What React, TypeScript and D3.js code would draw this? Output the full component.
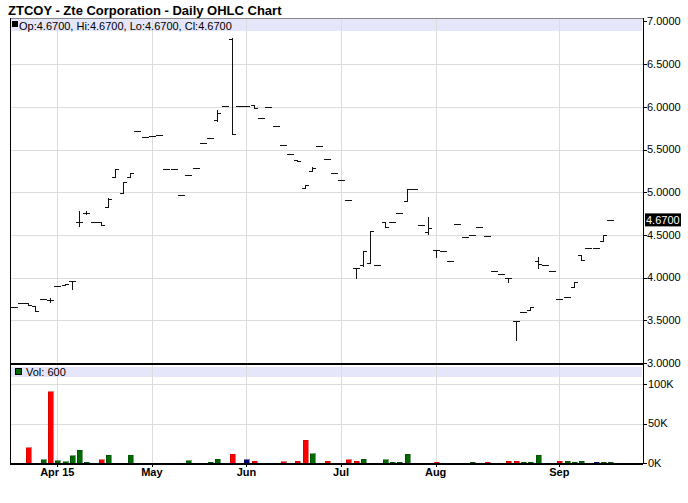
import * as d3 from 'd3';

// daily bars, oldest first (one entry per trading session shown)
const opens = [3.66, 3.70, 3.70, 3.67, 3.75, 3.74, 3.90, 3.91, 3.96, 4.65, 4.76, 4.65, 4.65, 4.83, 5.18, 4.99, 5.18, 5.72, 5.65, 5.66, 5.67, 5.27, 5.27, 4.97, 5.20, 5.28, 5.58, 5.64, 5.85, 6.01, 6.79, 6.01, 6.01, 6.02, 5.87, 6.00, 5.77, 5.55, 5.45, 5.38, 5.05, 5.25, 5.54, 5.39, 5.22, 5.14, 4.91, 4.11, 4.15, 4.17, 4.15, 4.65, 4.65, 4.76, 4.90, 5.04, 4.62, 4.53, 4.32, 4.31, 4.19, 4.63, 4.48, 4.50, 4.59, 4.49, 4.08, 4.04, 4.00, 3.49, 3.60, 3.62, 4.19, 4.15, 4.08, 3.75, 3.77, 3.89, 4.26, 4.35, 4.35, 4.43, 4.67];
const highs = [3.66, 3.70, 3.70, 3.67, 3.75, 3.76, 3.90, 3.93, 3.96, 4.78, 4.78, 4.65, 4.65, 4.93, 5.27, 5.12, 5.22, 5.72, 5.65, 5.66, 5.67, 5.27, 5.27, 4.97, 5.20, 5.28, 5.58, 5.64, 5.96, 6.01, 6.80, 6.01, 6.01, 6.02, 5.87, 6.00, 5.77, 5.55, 5.45, 5.38, 5.08, 5.29, 5.54, 5.39, 5.22, 5.14, 4.91, 4.11, 4.31, 4.55, 4.15, 4.65, 4.65, 4.76, 5.04, 5.04, 4.62, 4.71, 4.32, 4.31, 4.19, 4.63, 4.48, 4.50, 4.59, 4.49, 4.08, 4.04, 4.00, 3.49, 3.60, 3.65, 4.24, 4.15, 4.08, 3.75, 3.77, 3.95, 4.26, 4.35, 4.35, 4.50, 4.67];
const lows = [3.66, 3.70, 3.68, 3.61, 3.75, 3.72, 3.90, 3.91, 3.87, 4.61, 4.74, 4.65, 4.62, 4.83, 5.18, 4.99, 5.18, 5.72, 5.65, 5.66, 5.67, 5.27, 5.27, 4.97, 5.20, 5.28, 5.58, 5.64, 5.83, 6.01, 5.68, 6.01, 6.01, 5.99, 5.87, 6.00, 5.77, 5.55, 5.45, 5.36, 5.05, 5.25, 5.54, 5.39, 5.22, 5.14, 4.91, 4.00, 4.13, 4.17, 4.15, 4.59, 4.65, 4.76, 4.90, 5.04, 4.62, 4.51, 4.24, 4.31, 4.19, 4.63, 4.48, 4.50, 4.59, 4.49, 4.08, 4.04, 3.95, 3.27, 3.60, 3.62, 4.11, 4.15, 4.08, 3.75, 3.77, 3.89, 4.21, 4.35, 4.35, 4.43, 4.67];
const closes = [3.66, 3.70, 3.68, 3.61, 3.75, 3.74, 3.90, 3.93, 3.96, 4.65, 4.76, 4.65, 4.62, 4.92, 5.27, 5.12, 5.22, 5.72, 5.65, 5.66, 5.67, 5.27, 5.27, 4.97, 5.20, 5.28, 5.58, 5.64, 5.93, 6.01, 5.68, 6.01, 6.01, 5.99, 5.87, 6.00, 5.77, 5.55, 5.45, 5.36, 5.08, 5.28, 5.54, 5.39, 5.22, 5.14, 4.91, 4.11, 4.31, 4.55, 4.15, 4.59, 4.65, 4.76, 5.04, 5.04, 4.62, 4.58, 4.32, 4.31, 4.19, 4.63, 4.48, 4.50, 4.59, 4.49, 4.08, 4.04, 4.00, 3.49, 3.60, 3.65, 4.16, 4.15, 4.08, 3.75, 3.77, 3.95, 4.21, 4.35, 4.35, 4.50, 4.67];
// volume in thousands of shares
const volumes = [0, 0, 19, 0, 4, 90, 3, 1.5, 9, 16, 1, 0, 4, 10, 0, 0, 10, 0, 0, 0, 0, 0, 0, 0, 2.6, 0, 0, 1, 5, 0, 11, 0, 4, 2.5, 0, 0, 0, 1.5, 0, 2.5, 29, 12, 0, 2.5, 0, 0, 4, 2.5, 5, 0, 0, 4, 1, 1, 11, 0, 0, 0, 1, 0, 0, 0, 0, 1, 0, 1, 0, 0, 2.5, 2.5, 1.2, 1.2, 10, 0, 0, 2.5, 2.5, 1.2, 2.5, 0, 1, 1, 0.6];

const monthIdx = [6, 19, 32, 45, 58, 75];
const monthLabels = ['Apr 15', 'May', 'Jun', 'Jul', 'Aug', 'Sep'];
const priceTicks = [3, 3.5, 4, 4.5, 5, 5.5, 6, 6.5, 7];
const volTicks = [0, 50, 100];

const W = 688;
const H = 503;
const left = 10;
const right = 643;
const font = '"Liberation Sans", Arial, Helvetica, sans-serif';

export default function App() {
  const x = d3.scaleLinear().domain([-0.5, 86.5]).range([left, right]);
  const y = d3.scaleLinear().domain([3, 7]).range([363, 21.4]);
  const yv = d3.scaleLinear().domain([0, 100]).range([463, 384]);

  const last = closes[closes.length - 1];
  const volColor = (i: number) => {
    if (i === 0 || closes[i] === closes[i - 1]) return ['#000080', '#000050'];
    return closes[i] > closes[i - 1] ? ['#006a00', '#004000'] : ['#ff0000', '#c00000'];
  };

  return (
    <svg width={W} height={H} style={{ position: 'absolute', left: 0, top: 0, background: '#fff' }} fontFamily={font}>
      <text x={8} y={15} fontSize={13} fontWeight="bold" fill="#000">ZTCOY - Zte Corporation - Daily OHLC Chart</text>

      {/* header bands */}
      <rect x={left + 1} y={19} width={631} height={12} fill="#e6e6fa" />
      <rect x={left + 1} y={367} width={631} height={10} fill="#e6e6fa" />

      {/* grid */}
      <g stroke="#dcdcdc" strokeWidth={1} shapeRendering="crispEdges">
        {priceTicks.slice(1, -1).map((t) => (
          <line key={'p' + t} x1={left} x2={right} y1={Math.round(y(t)) + 0.5} y2={Math.round(y(t)) + 0.5} />
        ))}
        {volTicks.slice(1).map((t) => (
          <line key={'v' + t} x1={left} x2={right} y1={Math.round(yv(t)) + 0.5} y2={Math.round(yv(t)) + 0.5} />
        ))}
        {monthIdx.map((m) => (
          <line key={'m' + m} x1={Math.round(x(m)) + 0.5} x2={Math.round(x(m)) + 0.5} y1={19} y2={463} />
        ))}
      </g>

      {/* legends */}
      <rect x={12} y={21} width={6} height={6} fill="#000" />
      <text x={19} y={30} fontSize={11} fill="#000">{`Op:${opens[82].toFixed(4)}, Hi:${highs[82].toFixed(4)}, Lo:${lows[82].toFixed(4)}, Cl:${last.toFixed(4)}`}</text>
      <rect x={15.5} y={368.5} width={6} height={6} fill="#006a00" stroke="#000" strokeWidth={1} />
      <text x={26} y={376} fontSize={11} fill="#000">{`Vol: ${Math.round(volumes[82] * 1000)}`}</text>

      {/* OHLC bars */}
      <g stroke="#111" strokeWidth={1} shapeRendering="crispEdges">
        {closes.map((c, i) => {
          const cx = Math.round(x(i)) + 0.5;
          return (
            <g key={i}>
              {highs[i] !== lows[i] && <line x1={cx} x2={cx} y1={Math.round(y(highs[i]))} y2={Math.round(y(lows[i])) + 1} />}
              <line x1={cx - 3.5} x2={cx} y1={Math.round(y(opens[i])) + 0.5} y2={Math.round(y(opens[i])) + 0.5} />
              <line x1={cx} x2={cx + 3.5} y1={Math.round(y(c)) + 0.5} y2={Math.round(y(c)) + 0.5} />
            </g>
          );
        })}
      </g>

      {/* volume bars */}
      <g shapeRendering="crispEdges">
        {volumes.map((v, i) => {
          if (!v) return null;
          const [f, s] = volColor(i);
          const top = Math.min(yv(v), 462);
          return (
            <rect key={i} x={Math.round(x(i)) - 2} y={top} width={5} height={463 - top} fill={f} stroke={s} strokeWidth={0.5} />
          );
        })}
      </g>

      {/* frame */}
      <g shapeRendering="crispEdges">
        <line x1={left} x2={right} y1={18.5} y2={18.5} stroke="#888" />
        <line x1={left + 0.5} x2={left + 0.5} y1={18} y2={464} stroke="#000" />
        <line x1={right + 0.5} x2={right + 0.5} y1={18} y2={464} stroke="#000" />
        <line x1={left} x2={right} y1={363.5} y2={363.5} stroke="#000" strokeWidth={2} />
        <line x1={left} x2={right} y1={463.5} y2={463.5} stroke="#000" strokeWidth={2} />
      </g>

      {/* right axis, price */}
      <g fontSize={11} fill="#000">
        {priceTicks.map((t) => (
          <g key={t}>
            <line x1={right} x2={right + 4} y1={Math.round(y(t)) + 0.5} y2={Math.round(y(t)) + 0.5} stroke="#000" shapeRendering="crispEdges" />
            <text x={right + 4} y={y(t)} dy="0.35em">{t.toFixed(4)}</text>
          </g>
        ))}
        <rect x={right + 2} y={y(last) - 7} width={36} height={13} fill="#000" />
        <text x={right + 3} y={y(last)} dy="0.35em" fill="#fff">{last.toFixed(4)}</text>
      </g>

      {/* right axis, volume */}
      <g fontSize={11} fill="#000">
        {volTicks.map((t) => (
          <g key={t}>
            <line x1={right} x2={right + 4} y1={Math.round(yv(t)) + 0.5} y2={Math.round(yv(t)) + 0.5} stroke="#000" shapeRendering="crispEdges" />
            <text x={right + 5} y={yv(t)} dy="0.35em">{`${t}K`}</text>
          </g>
        ))}
      </g>

      {/* bottom axis */}
      <g fontSize={11} fontWeight="bold" fill="#000">
        {monthIdx.map((m, k) => (
          <g key={m}>
            <line x1={Math.round(x(m)) + 0.5} x2={Math.round(x(m)) + 0.5} y1={464} y2={467} stroke="#000" shapeRendering="crispEdges" />
            <text x={x(m)} y={476} textAnchor="middle">{monthLabels[k]}</text>
          </g>
        ))}
      </g>
    </svg>
  );
}
